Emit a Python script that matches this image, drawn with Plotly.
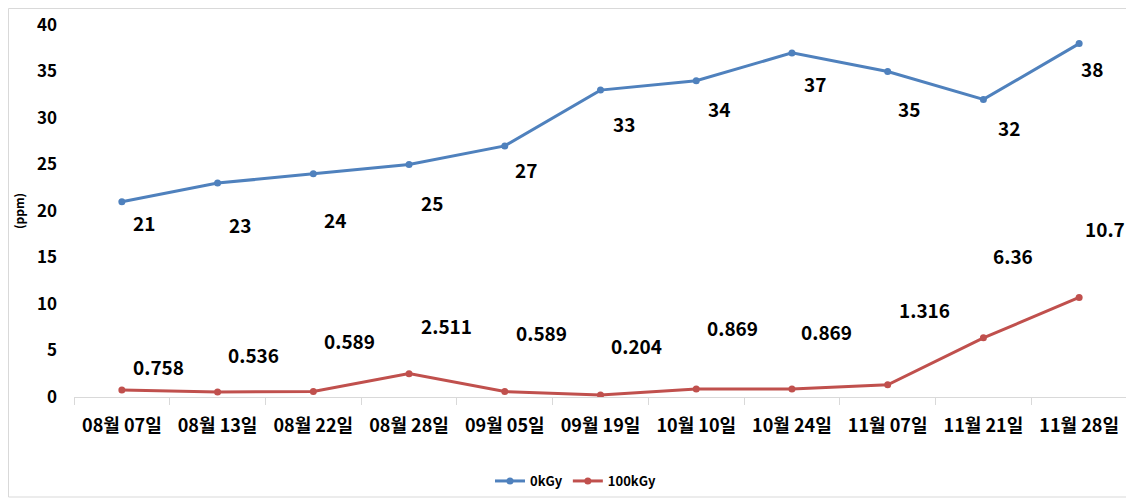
import plotly.graph_objects as go

# ---- data ----
dates = ["08월 07일", "08월 13일", "08월 22일", "08월 28일", "09월 05일", "09월 19일",
         "10월 10일", "10월 24일", "11월 07일", "11월 21일", "11월 28일"]
kgy0 = [21, 23, 24, 25, 27, 33, 34, 37, 35, 32, 38]
kgy100 = [0.758, 0.536, 0.589, 2.511, 0.589, 0.204, 0.869, 0.869, 1.316, 6.36, 10.7]
kgy0_labels = ["21", "23", "24", "25", "27", "33", "34", "37", "35", "32", "38"]
kgy100_labels = ["0.758", "0.536", "0.589", "2.511", "0.589", "0.204", "0.869", "0.869",
                 "1.316", "6.36", "10.7"]
y_ticks = [0, 5, 10, 15, 20, 25, 30, 35, 40]

# ---- label offsets (pixels) ----
blue_dx = [22, 22, 22, 23, 21, 23, 23, 23, 21, 26, 13]
blue_dy = [-21, -41, -46, -38, -24, -33, -28, -31, -37, -28, -25]
red_dx = [37, 36, 36, 37, 37, 36, 36, 35, 37, 30, 26]
red_dy = [23, 38, 51, 48, 59, 50, 61, 57, 75, 82, 69]

BLUE = "#4F81BD"
RED = "#C0504D"
FONT = "Noto Sans CJK KR"

fig = go.Figure()
fig.add_trace(go.Scatter(x=dates, y=kgy0, mode="lines+markers", name="0kGy",
                         line=dict(color=BLUE, width=3),
                         marker=dict(color=BLUE, size=7)))
fig.add_trace(go.Scatter(x=dates, y=kgy100, mode="lines+markers", name="100kGy",
                         line=dict(color=RED, width=3),
                         marker=dict(color=RED, size=7)))

annotations = []
for d, v, t, dx, dy in zip(dates, kgy0, kgy0_labels, blue_dx, blue_dy):
    annotations.append(dict(x=d, y=v, text=t, showarrow=False, xshift=dx, yshift=dy,
                            font=dict(family=FONT, size=19, color="#000000", weight="bold")))
for d, v, t, dx, dy in zip(dates, kgy100, kgy100_labels, red_dx, red_dy):
    annotations.append(dict(x=d, y=v, text=t, showarrow=False, xshift=dx, yshift=dy,
                            font=dict(family=FONT, size=19, color="#000000", weight="bold")))

# page body has an 8px margin, so figure coords = screen coords - 8
OFF = 8
W, H = 1126, 491
L, T = 74 - OFF, 25 - OFF
R = W - (1127 - OFF)
B = H - (397 - OFF)
pw, ph = W - L - R, H - T - B

def px_x(x):
    return (x - OFF - L) / pw

def px_y(y):
    return (H - B - (y - OFF)) / ph

fig.update_layout(
    width=W, height=H,
    margin=dict(l=L, r=R, t=T, b=B, pad=0, autoexpand=False),
    paper_bgcolor="white", plot_bgcolor="white",
    font=dict(family=FONT, color="#000000"),
    showlegend=True,
    legend=dict(orientation="h", x=px_x(576), y=px_y(481), xanchor="center", yanchor="middle",
                font=dict(family=FONT, size=13, weight="bold"), itemwidth=30,
                bgcolor="rgba(0,0,0,0)"),
    annotations=annotations,
    shapes=[dict(type="rect", xref="paper", yref="paper",
                 x0=px_x(8.5), x1=px_x(1131), y0=px_y(497), y1=px_y(8.5),
                 line=dict(color="#d9d9d9", width=1), fillcolor="rgba(0,0,0,0)", layer="below")],
    xaxis=dict(type="category", range=[-0.5, len(dates) - 0.5], showgrid=False,
               showline=True, linecolor="#d9d9d9",
               linewidth=1, ticks="outside", tickson="boundaries", ticklen=7,
               tickcolor="#d9d9d9", tickfont=dict(family=FONT, size=18, weight="bold"),
               ticklabelstandoff=12, zeroline=False, automargin=False),
    yaxis=dict(range=[0, 40], tickvals=y_ticks, showgrid=False, showline=False,
               zeroline=False, ticks="", ticklabelstandoff=16, automargin=False,
               tickfont=dict(family=FONT, size=17, weight="bold"),
               title=dict(text="(ppm)", font=dict(family=FONT, size=12, weight="bold"),
                          standoff=9)),
)

fig.write_html("out.html")
